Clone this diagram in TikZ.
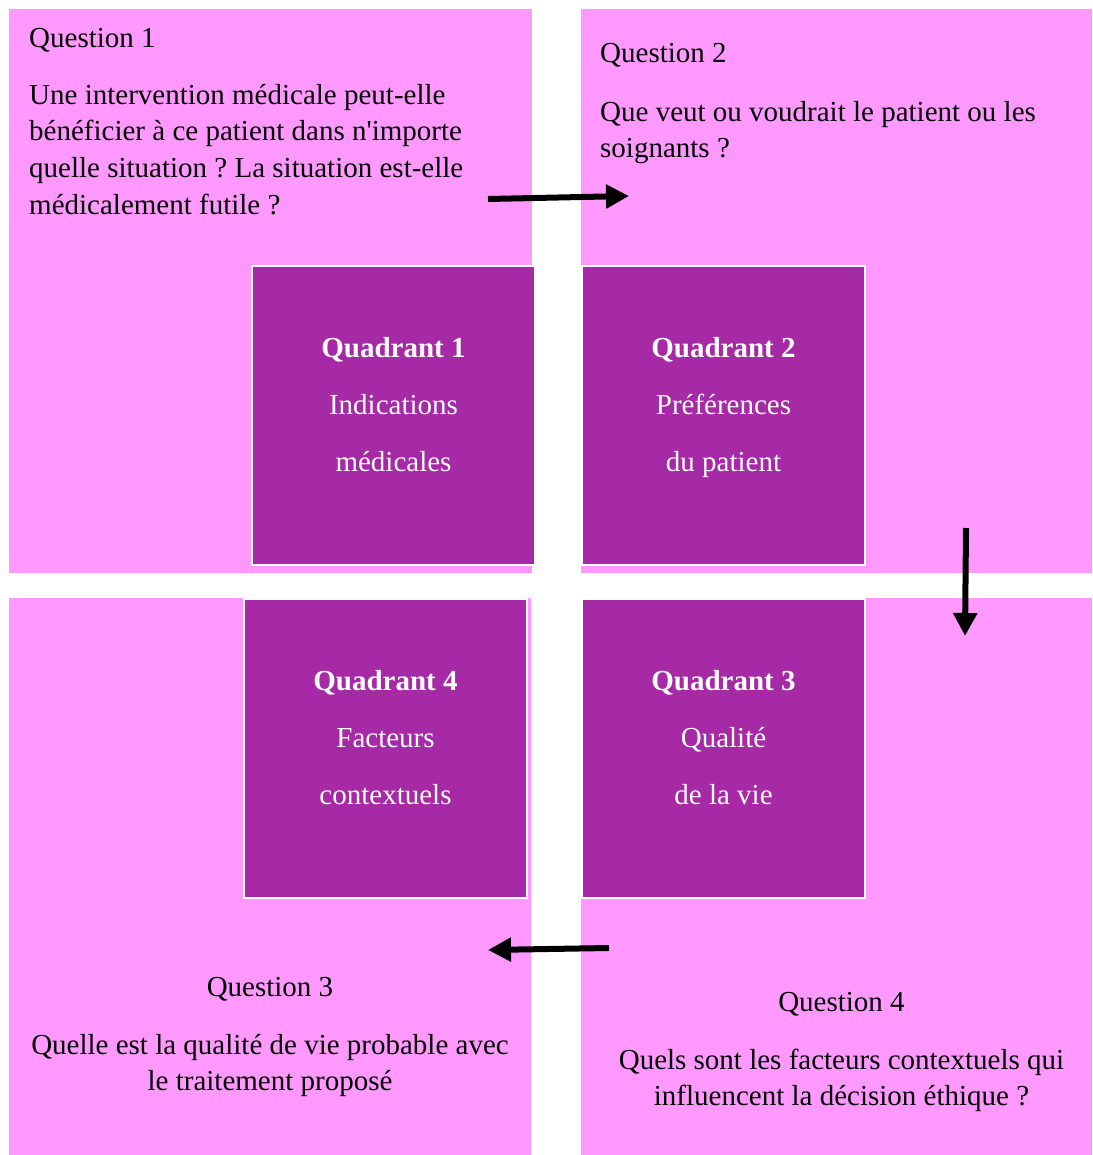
\documentclass[tikz,border=0pt]{standalone}
\usepackage{fontspec}
\setmainfont{Liberation Serif}[Ligatures=TeXOff]
\frenchspacing
\definecolor{Blush}{HTML}{FF99FF}
\definecolor{Plum}{HTML}{A629A6}
\usetikzlibrary{arrows.meta,positioning}

\begin{document}
\begin{tikzpicture}[
  x=1pt,y=-1pt,
  font=\fontsize{29}{36.7}\selectfont,
  panel/.style={fill=Blush,inner sep=0pt,outer sep=0pt,anchor=north west},
  quadrant/.style={fill=Plum,draw=white,line width=2pt,inner sep=0pt,outer sep=0pt,
    minimum width=283pt,minimum height=299pt,anchor=north west},
  qlabel/.style={text=white,align=center,inner sep=0pt,
    font=\fontsize{29}{57}\selectfont},
  qtext/.style={inner sep=0pt},
  arrow/.style={-{Triangle[length=23pt,width=23pt]},line width=6pt,draw=black}
]
\useasboundingbox (0,0) rectangle (1092,1155);
\node[panel,minimum width=523pt,minimum height=564pt] (panel1) at (9,9) {};
\node[panel,minimum width=511pt,minimum height=564pt] (panel2) at (581,9) {};
\node[panel,minimum width=522pt,minimum height=557pt] (panel3) at (9,598) {};
\node[panel,minimum width=511pt,minimum height=557pt] (panel4) at (581,598) {};
\node[quadrant] (quad1) at (252,266) {};
\node[quadrant] (quad2) at (582,266) {};
\node[quadrant] (quad4) at (244,599) {};
\node[quadrant] (quad3) at (582,599) {};
\node[qlabel,below=71pt of quad1.north] (lab1) {\textbf{Quadrant 1}\\Indications\\médicales};
\node[qlabel,below=71pt of quad2.north] (lab2) {\textbf{Quadrant 2}\\Préférences\\du patient};
\node[qlabel,below=71pt of quad4.north] (lab4) {\textbf{Quadrant 4}\\Facteurs\\contextuels};
\node[qlabel,below=71pt of quad3.north] (lab3) {\textbf{Quadrant 3}\\Qualité\\de la vie};
\node[qtext,align=left,below right=19pt and 20pt of panel1.north west] (ques1)
  {Question 1\\[20pt]Une intervention médicale peut-elle\\bénéficier à ce patient dans n'importe\\quelle situation ? La situation est-elle\\médicalement futile ?};
\node[qtext,align=left,below right=34pt and 19pt of panel2.north west] (ques2)
  {Question 2\\[22pt]Que veut ou voudrait le patient ou les\\soignants ?};
\node[qtext,align=center,below=379pt of panel3.north] (ques3)
  {Question 3\\[21pt]Quelle est la qualité de vie probable avec\\le traitement proposé};
\node[qtext,align=center,below=394pt of panel4.north,xshift=5pt] (ques4)
  {Question 4\\[21pt]Quels sont les facteurs contextuels qui\\influencent la décision éthique ?};
\coordinate (go1) at (488,199);
\coordinate (to1) at (629,196);
\coordinate (go2) at (966,528);
\coordinate (to2) at (965,636);
\coordinate (go3) at (609,948);
\coordinate (to3) at (488,950);
\draw[arrow] (go1)--(to1);
\draw[arrow] (go2)--(to2);
\draw[arrow] (go3)--(to3);
\end{tikzpicture}
\end{document}
